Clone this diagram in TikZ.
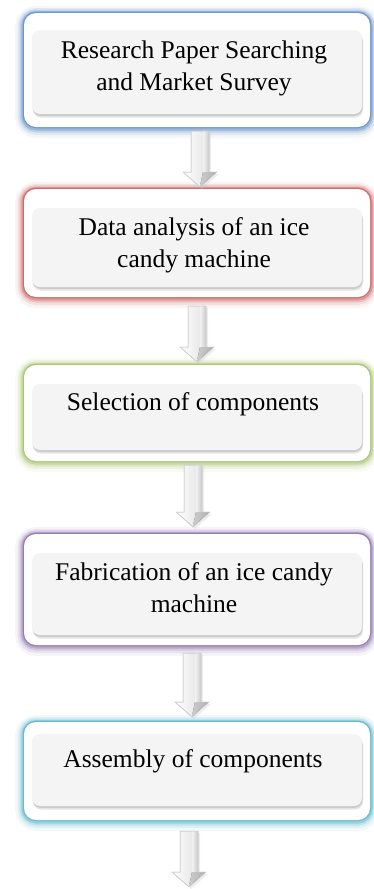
\documentclass[tikz,border=0pt]{standalone}
\usepackage{fontspec}
\setmainfont{Liberation Serif}
\usetikzlibrary{calc}
\definecolor{gblue}{HTML}{4F81BD}
\definecolor{gred}{HTML}{C0504D}
\definecolor{ggreen}{HTML}{9BBB59}
\definecolor{gpurple}{HTML}{8064A2}
\definecolor{gteal}{HTML}{4BACC6}
\definecolor{innerfill}{HTML}{F4F4F4}
\tikzset{
  outerbox/.style={rectangle, rounded corners=12pt, fill=white, minimum width=346pt, inner sep=0pt,
    preaction={draw=#1, line width=18pt, opacity=.07, transform canvas={yshift=-2pt}},
    preaction={draw=#1, line width=13pt, opacity=.12, transform canvas={yshift=-1.5pt}},
    preaction={draw=#1, line width=9pt, opacity=.2, transform canvas={yshift=-1pt}},
    preaction={draw=#1, line width=5.5pt, opacity=.35, transform canvas={yshift=-.8pt}},
    preaction={draw=#1, line width=2.5pt, opacity=.6}},
  innerbox/.style={rectangle, rounded corners=8pt, fill=innerfill, minimum width=330pt, inner sep=0pt,
    preaction={fill=gray!60, opacity=.35, transform canvas={yshift=-3.5pt, xshift=1pt}},
    preaction={fill=gray!70, opacity=.4, transform canvas={yshift=-1.8pt, xshift=.5pt}}},
  label/.style={font=\fontsize{25.5}{32}\selectfont, align=center, inner sep=0pt, text=black},
  arrowbody/.style={left color=white, middle color=white, right color=gray!30, draw=gray!40, line width=.5pt},
  arrowshade/.style={fill=gray!45, opacity=.3}
}
% block arrow: name, x, ytop, ybottom
\newcommand\blockarrow[4]{%
  \coordinate (#1s) at (#2,#3);
  \coordinate (#1e) at (#2,#4);
  \fill[arrowshade] ($(#1s)+(-7,2)$) -- ($(#1s)+(11,2)$) -- ($(#1e)+(11,-13)$) -- ($(#1e)+(19,-13)$)
     -- ($(#1e)+(2,2)$) -- ($(#1e)+(-15,-13)$) -- ($(#1e)+(-7,-13)$) -- cycle;
  \path[arrowbody] ($(#1s)+(-9,0)$) -- ($(#1s)+(9,0)$) -- ($(#1e)+(9,-15)$) -- ($(#1e)+(17,-15)$)
     -- (#1e) -- ($(#1e)+(-17,-15)$) -- ($(#1e)+(-9,-15)$) -- cycle;
  \fill[left color=gray!10, right color=gray!40] ($(#1s)+(3,0.5)$) rectangle ($(#1e)+(8.6,-15)$);
  \fill[left color=gray!8, right color=gray!35, opacity=.8] ($(#1e)+(3,-15)$) -- ($(#1e)+(16,-15)$) -- ($(#1e)+(0,-0.8)$) -- cycle;
  \draw[gray!40, line width=.5pt] ($(#1s)+(-9,0)$) -- ($(#1s)+(9,0)$) -- ($(#1e)+(9,-15)$) -- ($(#1e)+(17,-15)$)
     -- (#1e) -- ($(#1e)+(-17,-15)$) -- ($(#1e)+(-9,-15)$) -- cycle;
}
\begin{document}
\begin{tikzpicture}[x=1pt,y=-1pt]
\useasboundingbox (0,0) rectangle (373,889);
% boxes
\node[outerbox=gblue, minimum height=114pt] (b1) at (197,70) {};
\node[innerbox, minimum height=84pt] (i1) at (197,72) {};
\node[label] (t1) at (194,68.2) {Research Paper Searching\\and Market Survey};

\node[outerbox=gred, minimum height=108pt] (b2) at (197,243) {};
\node[innerbox, minimum height=79pt] (i2) at (197,247.5) {};
\node[label] (t2) at (194,245.7) {Data analysis of an ice\\candy machine};

\node[outerbox=ggreen, minimum height=96pt] (b3) at (197,413) {};
\node[innerbox, minimum height=66pt] (i3) at (197,417) {};
\node[label, anchor=base] (t3) at (193,410) {Selection of components};

\node[outerbox=gpurple, minimum height=111pt] (b4) at (197,589.5) {};
\node[innerbox, minimum height=82pt] (i4) at (197,594) {};
\node[label] (t4) at (194,587.7) {Fabrication of an ice candy\\machine};

\node[outerbox=gteal, minimum height=98pt] (b5) at (197,771) {};
\node[innerbox, minimum height=72pt] (i5) at (197,770) {};
\node[label, anchor=base] (t5) at (193,767) {Assembly of components};

% arrows
\blockarrow{a1}{200}{131}{187}
\blockarrow{a2}{197}{306}{362}
\blockarrow{a3}{193}{465}{527}
\blockarrow{a4}{192}{653}{717}
\blockarrow{a5}{189}{831}{887}
\end{tikzpicture}
\end{document}
